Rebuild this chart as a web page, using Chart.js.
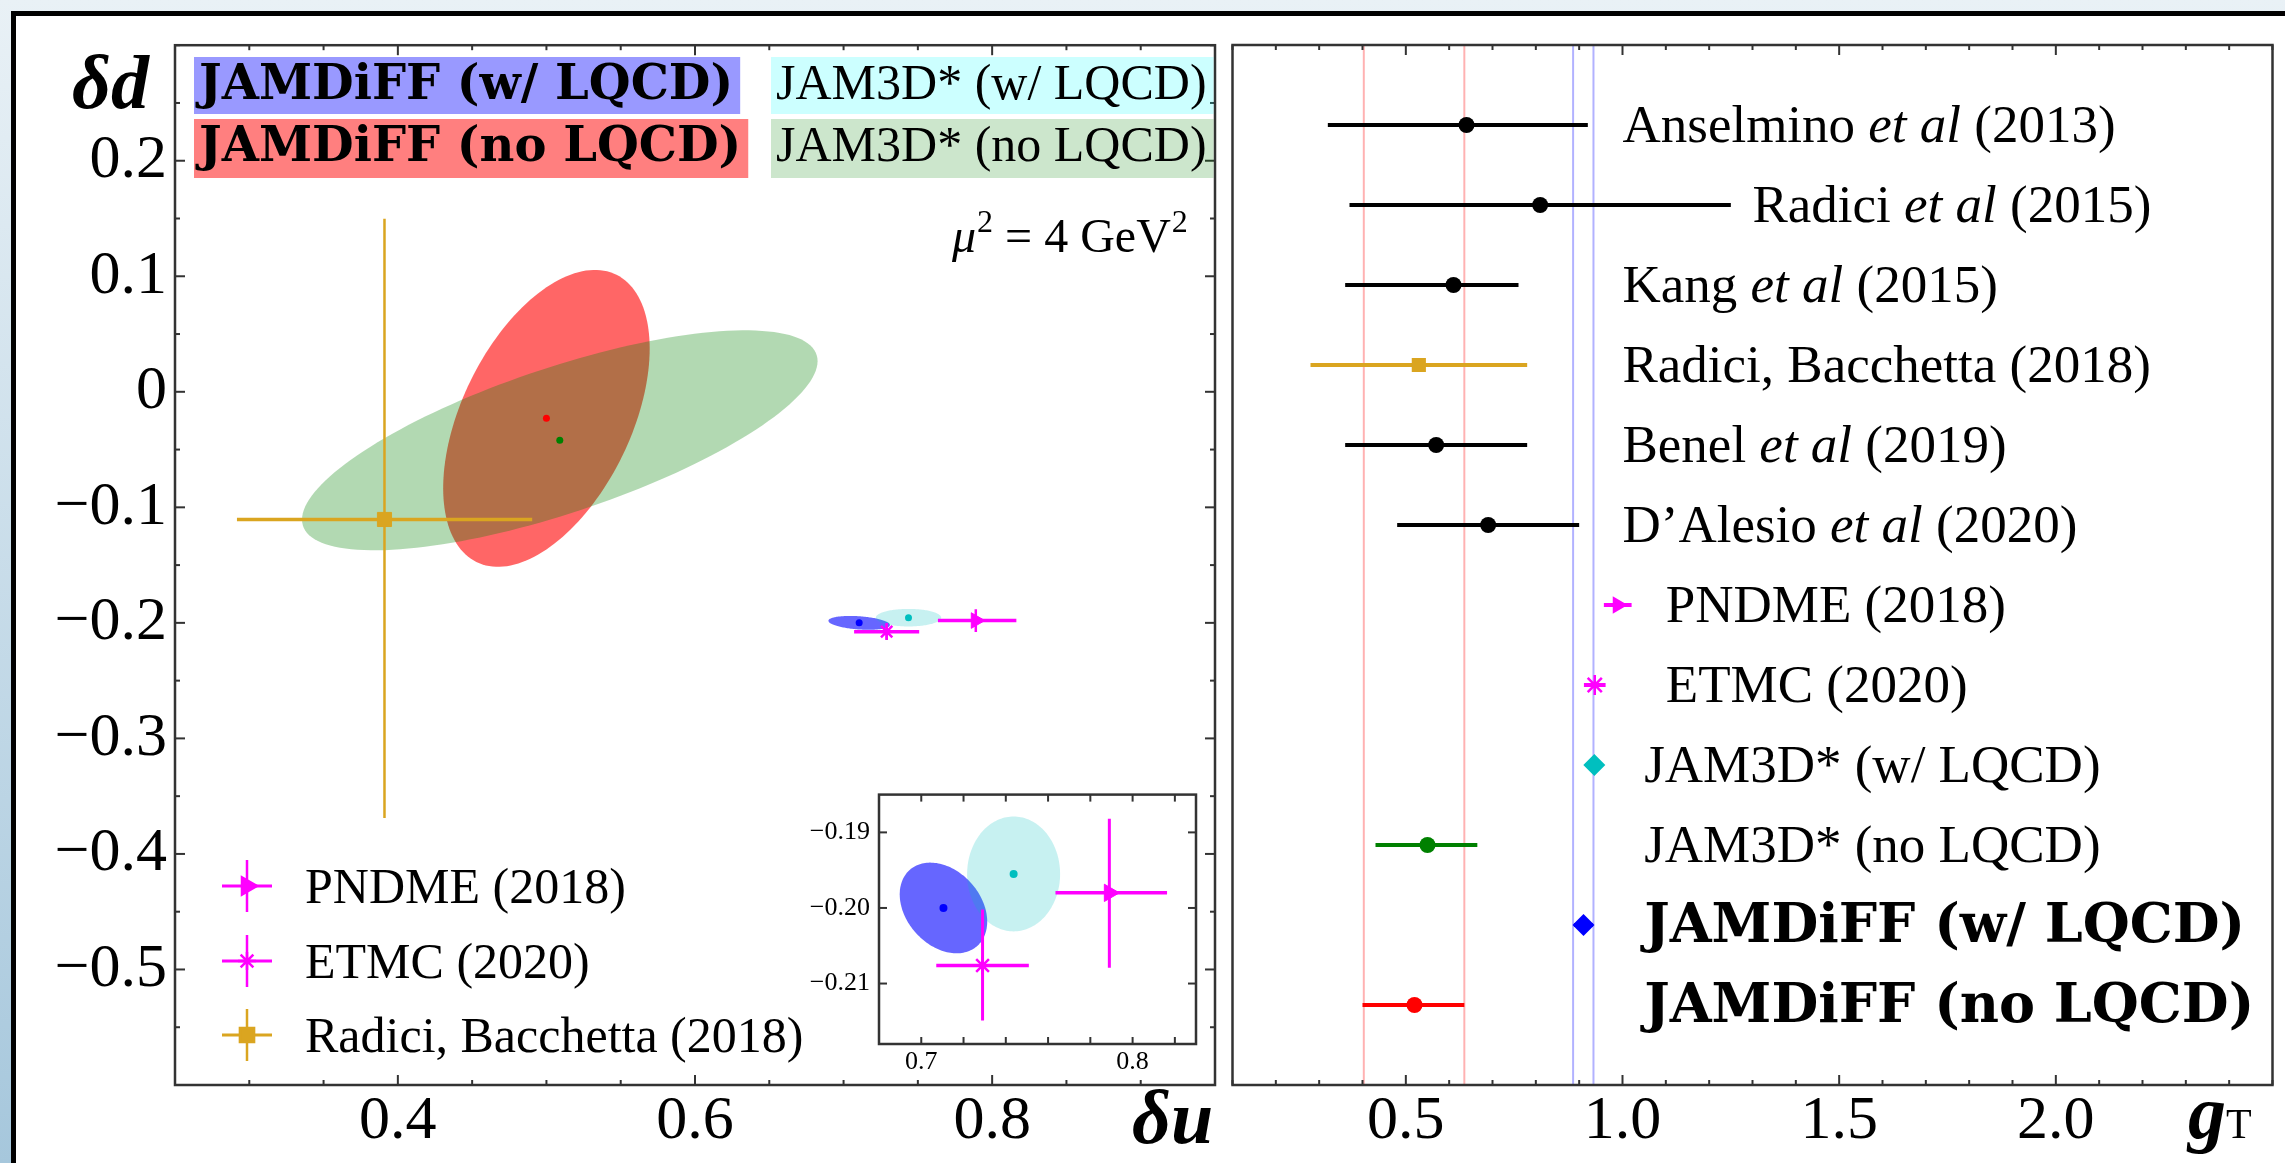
<!DOCTYPE html>
<html>
<head>
<meta charset="utf-8">
<script src="https://cdn.jsdelivr.net/npm/chart.js@4.4.1/dist/chart.umd.min.js"></script>
<style>
  html, body { margin: 0; padding: 0; }
  body { width: 2285px; height: 1163px; overflow: hidden; position: relative;
         background: linear-gradient(to bottom, #e9f1f6 0%, #a6c7dc 100%); }
  #sheet { position: absolute; left: 11px; top: 11px; right: 0; bottom: 0; background: #fff;
           border-left: 5px solid #000; border-top: 5px solid #000; }
  canvas { position: absolute; }
</style>
</head>
<body>
<div id="sheet"></div>
<canvas id="left" width="1226" height="1163" style="left:0;top:0"></canvas>
<canvas id="right" width="1065" height="1163" style="left:1220px;top:0"></canvas>
<canvas id="inset" width="420" height="320" style="left:790px;top:770px"></canvas>
<script>
// ---- data ----
// global fits: centre, 1-sigma widths and correlation of the (du, dd) ellipses
const fitNames = ['JAMDiFF (no LQCD)', 'JAM3D* (no LQCD)', 'JAMDiFF (w/ LQCD)', 'JAM3D* (w/ LQCD)'];
const fitDU   = [0.500, 0.509, 0.7105, 0.7437];
const fitDD   = [-0.023, -0.042, -0.200, -0.1955];
const fitErrU = [0.0695, 0.1735, 0.0207, 0.0220];
const fitErrD = [0.1285, 0.0952, 0.0060, 0.0076];
const fitRho  = [0.47, 0.72, -0.30, 0.00];

// lattice / other extractions in the (du, dd) plane
const labNames = ['PNDME (2018)', 'ETMC (2020)', 'Radici, Bacchetta (2018)'];
const labDU   = [0.789, 0.729, 0.391];
const labDUlo = [0.7635, 0.7071, 0.2917];
const labDUhi = [0.8163, 0.7509, 0.4904];
const labDD   = [-0.198, -0.2076, -0.1105];
const labDDlo = [-0.2079, -0.2149, -0.369];
const labDDhi = [-0.1882, -0.2002, 0.1497];

// isovector tensor charge gT
const gtNames = ['Anselmino et al (2013)', 'Radici et al (2015)', 'Kang et al (2015)',
  'Radici, Bacchetta (2018)', 'Benel et al (2019)', 'D\u2019Alesio et al (2020)',
  'PNDME (2018)', 'ETMC (2020)', 'JAM3D* (w/ LQCD)', 'JAM3D* (no LQCD)',
  'JAMDiFF (w/ LQCD)', 'JAMDiFF (no LQCD)'];
const gtVal = [0.64, 0.81, 0.61, 0.53, 0.57, 0.69, 0.989, 0.936, 0.935, 0.55, 0.91, 0.52];
const gtLo  = [0.32, 0.37, 0.36, 0.28, 0.36, 0.48, 0.957, 0.911, 0.915, 0.43, 0.888, 0.40];
const gtHi  = [0.92, 1.25, 0.76, 0.78, 0.78, 0.90, 1.021, 0.961, 0.955, 0.665, 0.932, 0.635];
const bandNoLQCD = [0.403, 0.635];
const bandWLQCD  = [0.886, 0.933];

// tick labels
const dUTicks = [0.4, 0.6, 0.8];
const dDTicks = [0.2, 0.1, 0, -0.1, -0.2, -0.3, -0.4, -0.5];
const gTTicks = [0.5, 1.0, 1.5, 2.0];
const insetUTicks = [0.7, 0.8];
const insetDTicks = [-0.19, -0.20, -0.21];

// ---- styles ----
const SERIF = '"Liberation Serif", "Times New Roman", serif';
const BOLD = '"DejaVu Serif", serif';
const fitFill = ['rgba(255,0,0,0.6)', 'rgba(0,128,0,0.3)', 'rgba(0,0,255,0.6)', 'rgba(0,191,191,0.22)'];
const fitBox  = ['rgba(255,0,0,0.5)', 'rgba(0,128,0,0.2)', 'rgba(0,0,255,0.4)', 'rgba(0,255,255,0.2)'];
const fitDot  = ['#ff0000', '#008000', '#0000ff', '#00bfbf'];
const labColor = ['#ff00ff', '#ff00ff', '#daa520'];
const labStyle = ['triangle', 'star', 'rect'];
const labRot = [90, 0, 0];
const gtColor = ['#000', '#000', '#000', '#daa520', '#000', '#000', '#ff00ff', '#ff00ff',
                 '#00bfbf', '#008000', '#0000ff', '#ff0000'];
const gtStyle = ['circle', 'circle', 'circle', 'rect', 'circle', 'circle', 'triangle', 'star',
                 'rectRot', 'circle', 'rectRot', 'circle'];
const gtRadius = [8, 8, 8, 10, 8, 8, 10, 10, 11, 8, 11, 8];
const gtLabelAt = [1.0, 1.3, 1.0, 1.0, 1.0, 1.0, 1.1, 1.1, 1.05, 1.05, 1.05, 1.05];

function fmt(v, d) {
  if (Math.abs(v) < 1e-9) return '0';
  return (v < 0 ? '\u2212' : '') + Math.abs(v).toFixed(d);
}

function line(ctx, x1, y1, x2, y2) {
  ctx.beginPath(); ctx.moveTo(x1, y1); ctx.lineTo(x2, y2); ctx.stroke();
}

function clipArea(chart) {
  const a = chart.chartArea;
  chart.ctx.beginPath();
  chart.ctx.rect(a.left, a.top, a.right - a.left, a.bottom - a.top);
  chart.ctx.clip();
}

function richText(ctx, str, x, y, size, bold) {
  let cx = x;
  for (const p of str.split(/(et al)/)) {
    if (!p) continue;
    ctx.font = bold ? `bold ${size}px ${BOLD}` : (p === 'et al' ? 'italic ' : '') + `${size}px ${SERIF}`;
    ctx.fillText(p, cx, y);
    cx += ctx.measureText(p).width;
  }
  return cx - x;
}

function textWidth(ctx, str, size, bold) {
  ctx.save(); ctx.globalAlpha = 0;
  const w = richText(ctx, str, 0, 0, size, bold);
  ctx.restore();
  return w;
}

function axis(min, max, ticks, d, size, padding, key, val, position) {
  return {
    type: 'linear', position, min, max,
    afterBuildTicks: s => { s.ticks = ticks.map(v => ({ value: v })); },
    afterFit: s => { s[key] = val; },
    grid: { display: false, drawTicks: false },
    border: { display: false },
    ticks: { autoSkip: false, maxRotation: 0, padding, color: '#000',
             font: { family: SERIF, size }, callback: v => fmt(v, d) }
  };
}

function steps(from, to, step) {
  const out = [];
  for (let v = from; v <= to + 1e-9; v += step) out.push(Math.round(v * 1000) / 1000);
  return out;
}

function drawFrame(chart, xt, yt, lw) {
  const { ctx, chartArea: a, scales: { x, y } } = chart;
  ctx.save();
  ctx.strokeStyle = '#333';
  ctx.lineWidth = lw;
  ctx.strokeRect(a.left, a.top, a.right - a.left, a.bottom - a.top);
  ctx.lineWidth = 2;
  xt.forEach(([v, len]) => {
    const px = x.getPixelForValue(v);
    line(ctx, px, a.bottom, px, a.bottom - len);
    line(ctx, px, a.top, px, a.top + len);
  });
  yt.forEach(([v, len]) => {
    const py = y.getPixelForValue(v);
    line(ctx, a.left, py, a.left + len, py);
    line(ctx, a.right, py, a.right - len, py);
  });
  ctx.restore();
}

function drawEllipses(chart) {
  const { ctx, scales: { x, y } } = chart;
  ctx.save();
  clipArea(chart);
  fitDU.forEach((cu, i) => {
    const r = fitRho[i], q = Math.sqrt(1 - r * r);
    ctx.beginPath();
    for (let k = 0; k <= 160; k++) {
      const t = k / 160 * 2 * Math.PI;
      const u = cu + fitErrU[i] * Math.cos(t);
      const d = fitDD[i] + fitErrD[i] * (r * Math.cos(t) + q * Math.sin(t));
      const px = x.getPixelForValue(u), py = y.getPixelForValue(d);
      if (k) ctx.lineTo(px, py); else ctx.moveTo(px, py);
    }
    ctx.closePath();
    ctx.fillStyle = fitFill[i];
    ctx.fill();
  });
  ctx.restore();
}

function drawLabBars(chart, wH, wV) {
  const { ctx, scales: { x, y } } = chart;
  ctx.save();
  clipArea(chart);
  labDU.forEach((u, i) => {
    const px = x.getPixelForValue(u), py = y.getPixelForValue(labDD[i]);
    ctx.strokeStyle = labColor[i];
    ctx.lineWidth = wH;
    line(ctx, x.getPixelForValue(labDUlo[i]), py, x.getPixelForValue(labDUhi[i]), py);
    ctx.lineWidth = wV;
    line(ctx, px, y.getPixelForValue(labDDlo[i]), px, y.getPixelForValue(labDDhi[i]));
  });
  ctx.restore();
}

function planeDatasets(dotR, markR) {
  return [
    { data: fitDU.map((u, i) => ({ x: u, y: fitDD[i] })),
      pointRadius: dotR, pointBackgroundColor: fitDot, pointBorderWidth: 0 },
    { data: labDU.map((u, i) => ({ x: u, y: labDD[i] })),
      pointStyle: labStyle, rotation: labRot, pointRadius: markR,
      pointBackgroundColor: labColor, pointBorderColor: labColor, pointBorderWidth: [1, 2.5, 1] }
  ];
}

const common = pad => ({
  responsive: false, animation: false, events: [],
  layout: { padding: pad },
  plugins: { legend: { display: false }, tooltip: { enabled: false } }
});

// ---- left panel: dd vs du ----
new Chart(document.getElementById('left'), {
  type: 'scatter',
  data: { datasets: planeDatasets(3.5, [9, 8, 10]) },
  options: Object.assign(common({ top: 45, right: 1, left: 0, bottom: 0 }), {
    scales: {
      x: axis(0.25, 0.95, dUTicks, 1, 62, 0, 'height', 78, 'bottom'),
      y: axis(-0.6, 0.3, dDTicks, 1, 62, 8, 'width', 175, 'left')
    }
  }),
  plugins: [{
    id: 'plane',
    beforeDatasetsDraw(chart) { drawEllipses(chart); drawLabBars(chart, 3.5, 2.5); },
    afterDraw(chart) {
      const ctx = chart.ctx;
      drawFrame(chart,
        steps(0.25, 0.95, 0.05).map(v => [v, dUTicks.includes(v) ? 10 : 5]),
        steps(-0.6, 0.3, 0.05).map(v => [v, dDTicks.includes(v) ? 10 : 5]), 2.5);
      ctx.save();
      ctx.fillStyle = '#000';
      // colour-boxed legend at the top
      [[2, 194, 57, 57], [3, 771, 57, 57], [0, 194, 119, 59], [1, 771, 119, 59]].forEach(([i, bx, by, bh]) => {
        const bold = fitNames[i].startsWith('JAMDiFF');
        const size = bold ? 48 : 50;
        const w = textWidth(ctx, fitNames[i], size, bold);
        ctx.fillStyle = fitBox[i];
        ctx.fillRect(bx, by, w + 12, bh);
        ctx.fillStyle = '#000';
        richText(ctx, fitNames[i], bx + 5, by + 42, size, bold);
      });
      // marker legend at the bottom left
      [886, 961, 1035].forEach((ly, i) => {
        ctx.strokeStyle = labColor[i];
        ctx.fillStyle = labColor[i];
        ctx.lineWidth = 3;
        line(ctx, 222, ly, 272, ly);
        ctx.lineWidth = 2.5;
        line(ctx, 247, ly - 26, 247, ly + 26);
        Chart.helpers.drawPoint(ctx, { pointStyle: labStyle[i], rotation: labRot[i],
          radius: [10, 9, 10][i], borderWidth: 2.5 }, 247, ly);
        ctx.fillStyle = '#000';
        richText(ctx, labNames[i], 305, ly + 17, 50, false);
      });
      // scale note
      ctx.font = `italic 48px ${SERIF}`;
      let tx = 952;
      ctx.fillText('\u03bc', tx, 252); tx += ctx.measureText('\u03bc').width + 1;
      ctx.font = `32px ${SERIF}`; ctx.fillText('2', tx, 232); tx += ctx.measureText('2').width;
      ctx.font = `48px ${SERIF}`; ctx.fillText(' = 4 GeV', tx, 252); tx += ctx.measureText(' = 4 GeV').width + 1;
      ctx.font = `32px ${SERIF}`; ctx.fillText('2', tx, 232);
      // axis titles
      ctx.font = `bold italic 76px ${SERIF}`;
      ctx.fillText('\u03b4d', 72, 108);
      ctx.fillText('\u03b4u', 1132, 1143);
      ctx.restore();
    }
  }]
});

// ---- inset: zoom on the lattice region ----
new Chart(document.getElementById('inset'), {
  type: 'scatter',
  data: { datasets: planeDatasets(4, [10, 9, 10]) },
  options: Object.assign(common({ top: 14, right: 14, left: 0, bottom: 0 }), {
    scales: {
      x: axis(0.68, 0.83, insetUTicks, 1, 26, 3, 'height', 46, 'bottom'),
      y: axis(-0.218, -0.185, insetDTicks, 2, 26, 9, 'width', 89, 'left')
    }
  }),
  plugins: [{
    id: 'insetPlane',
    beforeDraw(chart) {
      const a = chart.chartArea;
      chart.ctx.fillStyle = '#fff';
      chart.ctx.fillRect(a.left, a.top, a.right - a.left, a.bottom - a.top);
    },
    beforeDatasetsDraw(chart) { drawEllipses(chart); drawLabBars(chart, 3.5, 3); },
    afterDraw(chart) {
      drawFrame(chart, steps(0.68, 0.82, 0.02).map(v => [v, 7]), insetDTicks.map(v => [v, 8]), 2.5);
    }
  }]
});

// ---- right panel: gT comparison ----
new Chart(document.getElementById('right'), {
  type: 'scatter',
  data: { datasets: [{
    data: gtVal.map((v, i) => ({ x: v, y: i + 1 })),
    pointStyle: gtStyle, rotation: gtStyle.map(s => s === 'triangle' ? 90 : 0),
    pointRadius: gtRadius, pointBackgroundColor: gtColor, pointBorderColor: gtColor,
    pointBorderWidth: gtStyle.map(s => s === 'star' ? 2.5 : 0)
  }] },
  options: Object.assign(common({ top: 45, right: 8, left: 6, bottom: 0 }), {
    scales: {
      x: axis(0.1, 2.5, gTTicks, 1, 62, 0, 'height', 78, 'bottom'),
      y: { type: 'linear', display: false, min: 0, max: 13, reverse: true }
    }
  }),
  plugins: [{
    id: 'gt',
    beforeDatasetsDraw(chart) {
      const { ctx, chartArea: a, scales: { x, y } } = chart;
      ctx.save();
      ctx.lineWidth = 2;
      [[bandNoLQCD, 'rgba(255,0,0,0.3)'], [bandWLQCD, 'rgba(0,0,255,0.3)']].forEach(([b, c]) => {
        ctx.strokeStyle = c;
        b.forEach(v => { const px = x.getPixelForValue(v); line(ctx, px, a.top, px, a.bottom); });
      });
      gtVal.forEach((v, i) => {
        const py = y.getPixelForValue(i + 1);
        ctx.strokeStyle = gtColor[i];
        ctx.lineWidth = 4;
        line(ctx, x.getPixelForValue(gtLo[i]), py, x.getPixelForValue(gtHi[i]), py);
      });
      ctx.restore();
    },
    afterDraw(chart) {
      const { ctx, scales: { x, y } } = chart;
      drawFrame(chart, steps(0.1, 2.5, 0.1).map(v => [v, gTTicks.includes(v) ? 10 : 5]), [], 2.5);
      ctx.save();
      ctx.fillStyle = '#000';
      gtNames.forEach((n, i) => {
        const bold = n.startsWith('JAMDiFF');
        richText(ctx, n, x.getPixelForValue(gtLabelAt[i]), y.getPixelForValue(i + 1) + 17, bold ? 54 : 53, bold);
      });
      ctx.font = `bold italic 76px ${SERIF}`;
      ctx.fillText('g', 968, 1138);
      ctx.font = `42px ${SERIF}`;
      ctx.fillText('T', 1006, 1138);
      ctx.restore();
    }
  }]
});
</script>
</body>
</html>
